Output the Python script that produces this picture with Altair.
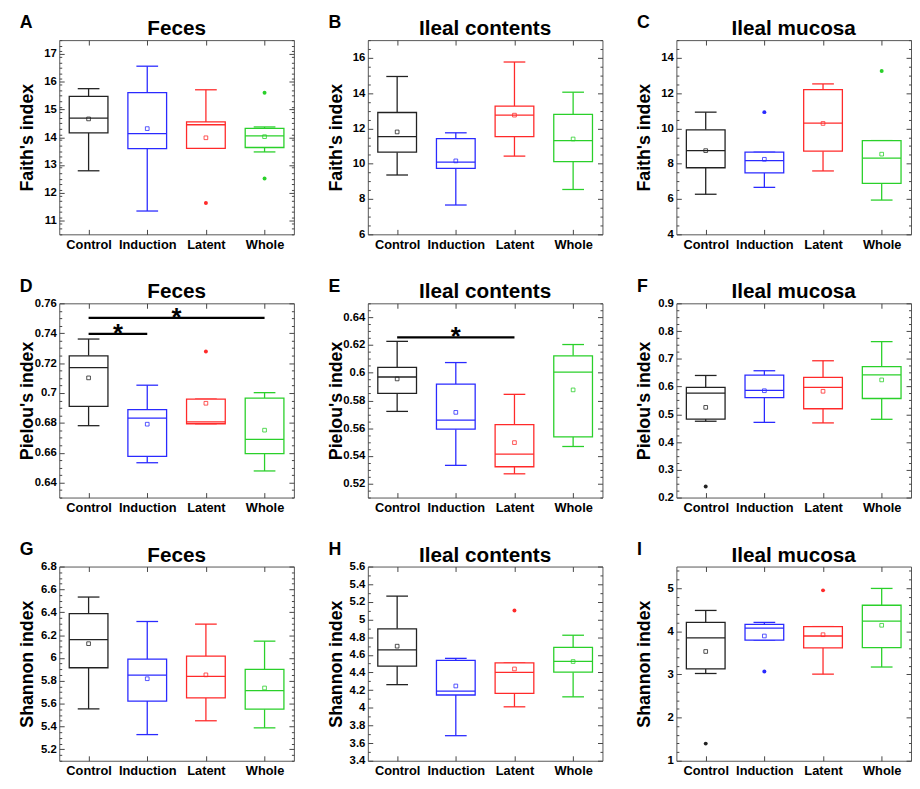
import altair as alt
import pandas as pd

GROUPS = ["Control", "Induction", "Latent", "Whole"]
COLORS = ["#222222", "#2a2aff", "#ff2a2a", "#2ad02a"]
FONT = "Liberation Sans"

# ---- Panel A: Faith's index, Feces
A_LOW = [12.79, 11.34, 13.60, 13.47]
A_Q1 = [14.16, 13.59, 13.60, 13.63]
A_MED = [14.69, 14.13, 14.45, 14.05]
A_Q3 = [15.47, 15.61, 14.55, 14.32]
A_HIGH = [15.75, 16.56, 15.71, 14.37]
A_MEAN = [14.66, 14.31, 13.98, 14.02]
A_OUT_G = ["Latent", "Whole", "Whole"]
A_OUT_V = [11.63, 15.60, 12.51]

# ---- Panel B: Faith's index, Ileal contents
B_LOW = [9.36, 7.66, 10.43, 8.54]
B_Q1 = [10.65, 9.74, 11.53, 10.12]
B_MED = [11.53, 10.09, 12.75, 11.31]
B_Q3 = [12.90, 11.42, 13.26, 12.79]
B_HIGH = [14.94, 11.75, 15.76, 14.05]
B_MEAN = [11.80, 10.16, 12.75, 11.40]
B_OUT_G = []
B_OUT_V = []

# ---- Panel C: Faith's index, Ileal mucosa
C_LOW = [6.27, 6.66, 7.59, 5.94]
C_Q1 = [7.77, 7.48, 8.71, 6.89]
C_MED = [8.74, 8.18, 10.30, 8.32]
C_Q3 = [9.92, 8.65, 12.19, 9.31]
C_HIGH = [10.92, 8.65, 12.52, 9.31]
C_MEAN = [8.74, 8.25, 10.28, 8.54]
C_OUT_G = ["Induction", "Whole"]
C_OUT_V = [10.92, 13.25]

# ---- Panel D: Pielou's index, Feces
D_LOW = [0.6781, 0.6533, 0.6794, 0.6478]
D_Q1 = [0.6910, 0.6576, 0.6794, 0.6594]
D_MED = [0.7170, 0.6832, 0.6806, 0.6690]
D_Q3 = [0.7249, 0.6888, 0.6959, 0.6966]
D_HIGH = [0.7361, 0.7052, 0.6959, 0.7002]
D_MEAN = [0.7101, 0.6791, 0.6931, 0.6751]
D_OUT_G = ["Latent"]
D_OUT_V = [0.7277]
D_SIG_FROM = ["Control", "Control"]
D_SIG_TO = ["Induction", "Whole"]
D_SIG_Y = [0.7396, 0.7503]

# ---- Panel E: Pielou's index, Ileal contents
E_LOW = [0.5721, 0.5332, 0.5271, 0.5468]
E_Q1 = [0.5851, 0.5593, 0.5322, 0.5538]
E_MED = [0.5969, 0.5658, 0.5413, 0.6004]
E_Q3 = [0.6038, 0.5918, 0.5626, 0.6122]
E_HIGH = [0.6226, 0.6073, 0.5844, 0.6203]
E_MEAN = [0.5955, 0.5714, 0.5496, 0.5876]
E_OUT_G = []
E_OUT_V = []
E_SIG_FROM = ["Control"]
E_SIG_TO = ["Latent"]
E_SIG_Y = [0.6254]

# ---- Panel F: Pielou's index, Ileal mucosa
F_LOW = [0.475, 0.471, 0.469, 0.482]
F_Q1 = [0.483, 0.560, 0.520, 0.557]
F_MED = [0.576, 0.586, 0.597, 0.642]
F_Q3 = [0.597, 0.641, 0.633, 0.672]
F_HIGH = [0.640, 0.657, 0.693, 0.762]
F_MEAN = [0.525, 0.585, 0.583, 0.624]
F_OUT_G = ["Control"]
F_OUT_V = [0.240]

# ---- Panel G: Shannon index, Feces
G_LOW = [5.554, 5.329, 5.450, 5.388]
G_Q1 = [5.914, 5.622, 5.650, 5.551]
G_MED = [6.161, 5.849, 5.838, 5.714]
G_Q3 = [6.387, 5.990, 6.015, 5.900]
G_HIGH = [6.533, 6.319, 6.296, 6.147]
G_MEAN = [6.125, 5.818, 5.852, 5.737]
G_OUT_G = []
G_OUT_V = []

# ---- Panel H: Shannon index, Ileal contents
H_LOW = [4.262, 3.684, 4.011, 4.124]
H_Q1 = [4.473, 4.145, 4.164, 4.404]
H_MED = [4.655, 4.189, 4.400, 4.527]
H_Q3 = [4.895, 4.538, 4.509, 4.684]
H_HIGH = [5.265, 4.560, 4.509, 4.822]
H_MEAN = [4.698, 4.247, 4.440, 4.524]
H_OUT_G = ["Latent"]
H_OUT_V = [5.102]

# ---- Panel I: Shannon index, Ileal mucosa
I_LOW = [3.022, 3.794, 3.007, 3.172]
I_Q1 = [3.127, 3.794, 3.614, 3.622]
I_MED = [3.846, 4.071, 3.891, 4.236]
I_Q3 = [4.206, 4.161, 4.109, 4.603]
I_HIGH = [4.483, 4.206, 4.109, 4.993]
I_MEAN = [3.532, 3.891, 3.921, 4.139]
I_OUT_G = ["Control", "Induction", "Latent"]
I_OUT_V = [1.397, 3.067, 4.948]

W = 238
H = 197
BOX_HALF = 0.33
CAP_HALF = 0.185


def tick_values(lo, hi, step):
    n = int(round((hi - lo) / step))
    return [round(lo + i * step, 6) for i in range(n + 1)]


def y_label_axis(title, values):
    return alt.Axis(orient="left", values=values, format="~g", title=title,
                    labelFontSize=11.5, labelFontWeight="bold", labelPadding=3,
                    labelFont=FONT, labelColor="black", labelFlush=False,
                    labelOverlap=False, ticks=False, domain=False, grid=False,
                    minExtent=22, maxExtent=22, titlePadding=1,
                    titleFontSize=18, titleFontWeight="bold", titleFont=FONT,
                    titleColor="black")


def x_label_axis():
    return alt.Axis(orient="bottom", values=[0, 1, 2, 3], title=None,
                    labelExpr="['Control','Induction','Latent','Whole'][datum.value]",
                    labelFontSize=13, labelFontWeight="bold", labelFont=FONT,
                    labelColor="black", labelPadding=4, labelFlush=False,
                    labelOverlap=False, ticks=False, domain=False, grid=False)


def tick_axis(orient, values, size):
    return alt.Axis(orient=orient, values=values, labels=False, ticks=True,
                    tickSize=size, offset=-size, domain=False, title=None,
                    grid=False, tickColor="#444444", tickWidth=1)


def panel(letter, title, ytitle, low, q1, med, q3, high, mean, out_g, out_v,
          domain, major, minor, sig_from=None, sig_to=None, sig_y=None):
    idx = list(range(len(GROUPS)))
    df = pd.DataFrame({"group": GROUPS, "idx": idx, "low": low, "q1": q1,
                       "med": med, "q3": q3, "high": high, "mean": mean})
    df["box_l"] = df["idx"] - BOX_HALF
    df["box_r"] = df["idx"] + BOX_HALF
    df["cap_l"] = df["idx"] - CAP_HALF
    df["cap_r"] = df["idx"] + CAP_HALF
    outs = pd.DataFrame({"group": out_g, "idx": [GROUPS.index(g) for g in out_g],
                         "value": out_v})

    majors = tick_values(major[0], major[1], major[2])
    allminor = tick_values(domain[0], domain[1], minor)
    minors = [v for v in allminor if all(abs(v - m) > 1e-9 for m in majors)]

    xs = alt.Scale(domain=[-0.5, 3.5], nice=False, zero=False)
    ys = alt.Scale(domain=domain, nice=False, zero=False)
    col = alt.Scale(domain=GROUPS, range=COLORS)

    base = alt.Chart(df)

    whisk_lo = base.mark_rule(strokeWidth=1.3).encode(
        x=alt.X("idx:Q", scale=xs, axis=x_label_axis()),
        y=alt.Y("low:Q", scale=ys, axis=y_label_axis(ytitle, majors)),
        y2="q1:Q",
        color=alt.Color("group:N", scale=col, legend=None))
    whisk_hi = base.mark_rule(strokeWidth=1.3).encode(
        x=alt.X("idx:Q", scale=xs, axis=tick_axis("bottom", [0, 1, 2, 3], 5)),
        y=alt.Y("q3:Q", scale=ys, axis=tick_axis("left", majors, 5)),
        y2="high:Q",
        color=alt.Color("group:N", scale=col, legend=None))
    cap_lo = base.mark_rule(strokeWidth=1.3).encode(
        x=alt.X("cap_l:Q", scale=xs, axis=tick_axis("top", [0, 1, 2, 3], 5)),
        x2="cap_r:Q",
        y=alt.Y("low:Q", scale=ys, axis=tick_axis("right", majors, 5)),
        color=alt.Color("group:N", scale=col, legend=None))
    cap_hi = base.mark_rule(strokeWidth=1.3).encode(
        x=alt.X("cap_l:Q", scale=xs, axis=None),
        x2="cap_r:Q",
        y=alt.Y("high:Q", scale=ys, axis=tick_axis("left", minors, 2.5)),
        color=alt.Color("group:N", scale=col, legend=None))
    box = base.mark_rect(fill="white", strokeWidth=1.3).encode(
        x=alt.X("box_l:Q", scale=xs, axis=None),
        x2="box_r:Q",
        y=alt.Y("q1:Q", scale=ys, axis=tick_axis("right", minors, 2.5)),
        y2="q3:Q",
        stroke=alt.Stroke("group:N", scale=col, legend=None))
    median = base.mark_rule(strokeWidth=1.3).encode(
        x=alt.X("box_l:Q", scale=xs, axis=None),
        x2="box_r:Q",
        y=alt.Y("med:Q", scale=ys, axis=None),
        color=alt.Color("group:N", scale=col, legend=None))
    mean_pt = base.mark_point(shape="square", filled=False, size=14,
                              strokeWidth=0.8, opacity=1).encode(
        x=alt.X("idx:Q", scale=xs, axis=None),
        y=alt.Y("mean:Q", scale=ys, axis=None),
        color=alt.Color("group:N", scale=col, legend=None))
    layers = [whisk_lo, whisk_hi, cap_lo, cap_hi, box, median, mean_pt]

    if len(outs):
        layers.append(alt.Chart(outs).mark_circle(size=16, opacity=1).encode(
            x=alt.X("idx:Q", scale=xs, axis=None),
            y=alt.Y("value:Q", scale=ys, axis=None),
            color=alt.Color("group:N", scale=col, legend=None)))

    if sig_from:
        sdf = pd.DataFrame({"a": [GROUPS.index(g) for g in sig_from],
                            "b": [GROUPS.index(g) for g in sig_to],
                            "y": sig_y})
        sdf["mid"] = (sdf["a"] + sdf["b"]) / 2
        sdf["star"] = "*"
        layers.append(alt.Chart(sdf).mark_rule(color="black", strokeWidth=2.2).encode(
            x=alt.X("a:Q", scale=xs, axis=None), x2="b:Q",
            y=alt.Y("y:Q", scale=ys, axis=None)))
        layers.append(alt.Chart(sdf).mark_text(
            fontSize=26, fontWeight="bold", font=FONT, color="black",
            baseline="alphabetic", dy=8).encode(
            x=alt.X("mid:Q", scale=xs, axis=None),
            y=alt.Y("y:Q", scale=ys, axis=None),
            text="star:N"))

    letter_df = pd.DataFrame({"t": [letter]})
    layers.append(alt.Chart(letter_df).mark_text(
        fontSize=18, fontWeight="bold", font=FONT, color="black",
        align="left", baseline="alphabetic").encode(
        x=alt.value(-40), y=alt.value(-12), text="t:N"))

    return alt.layer(*layers).resolve_axis(x="independent", y="independent").properties(
        width=W, height=H,
        title=alt.TitleParams(title, fontSize=21, fontWeight="bold", font=FONT,
                              color="black", anchor="middle", frame="group",
                              offset=-25))


pA = panel("A", "Feces", "Faith's index", A_LOW, A_Q1, A_MED, A_Q3, A_HIGH, A_MEAN,
           A_OUT_G, A_OUT_V, [10.5, 17.5], (11, 17, 1), 0.2)
pB = panel("B", "Ileal contents", "Faith's index", B_LOW, B_Q1, B_MED, B_Q3, B_HIGH, B_MEAN,
           B_OUT_G, B_OUT_V, [6, 17], (6, 16, 2), 0.5)
pC = panel("C", "Ileal mucosa", "Faith's index", C_LOW, C_Q1, C_MED, C_Q3, C_HIGH, C_MEAN,
           C_OUT_G, C_OUT_V, [4, 15], (4, 14, 2), 0.5)
pD = panel("D", "Feces", "Pielou's index", D_LOW, D_Q1, D_MED, D_Q3, D_HIGH, D_MEAN,
           D_OUT_G, D_OUT_V, [0.63, 0.76], (0.64, 0.76, 0.02), 0.005,
           D_SIG_FROM, D_SIG_TO, D_SIG_Y)
pE = panel("E", "Ileal contents", "Pielou's index", E_LOW, E_Q1, E_MED, E_Q3, E_HIGH, E_MEAN,
           E_OUT_G, E_OUT_V, [0.51, 0.65], (0.52, 0.64, 0.02), 0.005,
           E_SIG_FROM, E_SIG_TO, E_SIG_Y)
pF = panel("F", "Ileal mucosa", "Pielou's index", F_LOW, F_Q1, F_MED, F_Q3, F_HIGH, F_MEAN,
           F_OUT_G, F_OUT_V, [0.2, 0.9], (0.2, 0.9, 0.1), 0.025)
pG = panel("G", "Feces", "Shannon index", G_LOW, G_Q1, G_MED, G_Q3, G_HIGH, G_MEAN,
           G_OUT_G, G_OUT_V, [5.1, 6.8], (5.2, 6.8, 0.2), 0.05)
pH = panel("H", "Ileal contents", "Shannon index", H_LOW, H_Q1, H_MED, H_Q3, H_HIGH, H_MEAN,
           H_OUT_G, H_OUT_V, [3.4, 5.6], (3.4, 5.6, 0.2), 0.1)
pI = panel("I", "Ileal mucosa", "Shannon index", I_LOW, I_Q1, I_MED, I_Q3, I_HIGH, I_MEAN,
           I_OUT_G, I_OUT_V, [1, 5.5], (1, 5, 1), 0.2)

rows = [alt.hconcat(pA, pB, pC, spacing=32),
        alt.hconcat(pD, pE, pF, spacing=32),
        alt.hconcat(pG, pH, pI, spacing=32)]

chart = alt.vconcat(*rows, spacing=25).properties(
    padding={"left": 10, "top": 0, "right": 0, "bottom": 0}
).configure_view(stroke="#555555", strokeWidth=1).configure_axis(grid=False)

chart.save("out.html", embed_options={"renderer": "svg", "actions": False})
